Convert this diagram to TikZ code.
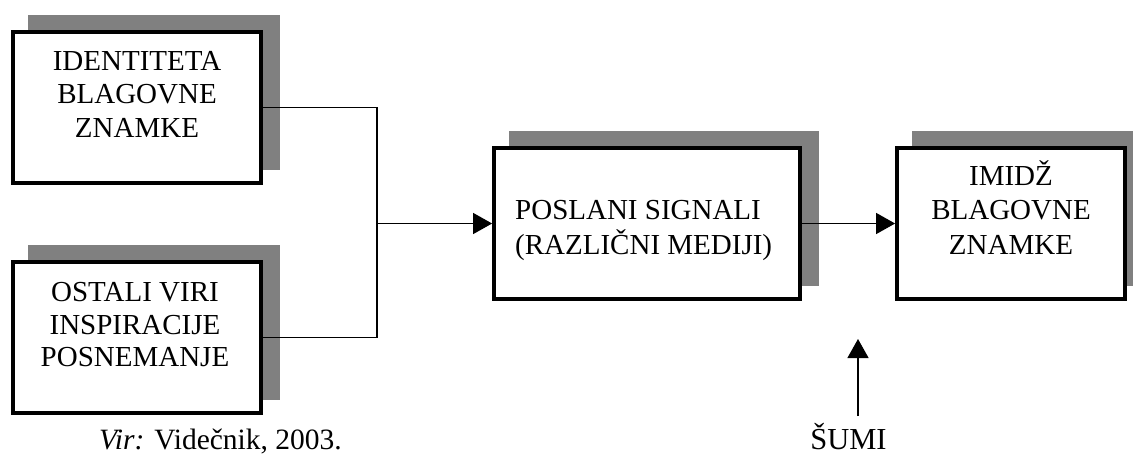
\documentclass[tikz,border=0pt]{standalone}
\usepackage{fontspec}
\setmainfont{Liberation Serif}
\usetikzlibrary{arrows.meta,shadows}
\definecolor{shadegray}{RGB}{128,128,128}
\begin{document}
\begin{tikzpicture}[x=1pt,y=-1pt,
  stage/.style={draw=black, line width=3.8pt, fill=white, minimum height=151pt, inner sep=0pt,
    copy shadow={shadow xshift=17pt, shadow yshift=15pt, fill=shadegray, draw=shadegray, line width=3.8pt}},
  boxtext/.style={inner sep=0pt, font=\fontsize{29}{33.5}\selectfont},
  note/.style={inner sep=0pt, font=\fontsize{29.5}{35}\selectfont},
  flow/.style={line width=1.3pt},
  flowarrow/.style={flow, -{Triangle[length=19pt,width=21pt]}}
]
\clip (0,0) rectangle (1133,456);

% boxes with their offset grey shadows
\node[stage, minimum width=248pt] (b1) at (137,107.5) {};
\node[stage, minimum width=248pt] (b2) at (137,337.5) {};
\node[stage, minimum width=306pt] (b3) at (647,223.5) {};
\node[stage, minimum width=228pt] (b4) at (1011,223.5) {};

% box texts (anchored on the baseline of the last line)
\node[boxtext, anchor=base, align=center] (t1) at (137,137) {IDENTITETA\\BLAGOVNE\\ZNAMKE};
\node[boxtext, anchor=base, align=center, font=\fontsize{29}{32.5}\selectfont] (t2) at (135,366.5) {OSTALI VIRI\\INSPIRACIJE\\POSNEMANJE};
\node[boxtext, anchor=base west, align=left, font=\fontsize{29}{35}\selectfont] (t3) at (515,254.5) {POSLANI SIGNALI\\(RAZLIČNI MEDIJI)};
\node[boxtext, anchor=base, align=center, font=\fontsize{29}{34.5}\selectfont] (t4) at (1011,254) {IMIDŽ\\BLAGOVNE\\ZNAMKE};

% captions under the diagram
\node[note, anchor=base east] (src) at (342,449) {\textit{Vir:} Videčnik, 2003.};
\node[note, font=\fontsize{30.5}{35}\selectfont, anchor=base] (noise) at (848.5,449) {ŠUMI};

% connectors
\coordinate (join) at (377,223.5);
\draw[flow] (b1.east) -| (join);
\draw[flow] (b2.east) -| (join);
\draw[flowarrow] (join) -- (b3.west);
\draw[flowarrow] (b3.east) -- (b4.west);
\coordinate (n0) at (858,416);
\coordinate (n1) at (858,339);
\draw[flowarrow] (n0) -- (n1);
\end{tikzpicture}
\end{document}
